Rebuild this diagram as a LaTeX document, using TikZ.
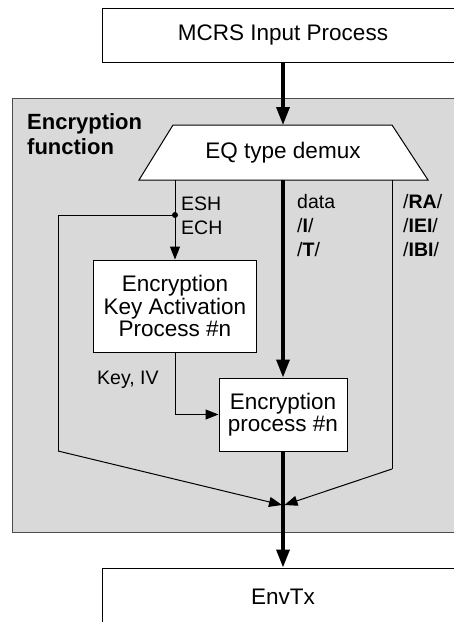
\documentclass[tikz,border=0pt]{standalone}
\usepackage{fontspec}
\setmainfont{Liberation Sans}
\usetikzlibrary{arrows.meta}
\definecolor{panel}{HTML}{D9D9D9}
\tikzset{
  box/.style={draw=black, fill=white, line width=1pt, inner sep=0pt, align=center, font=\fontsize{22.5}{22.5}\selectfont},
  thin/.style={line width=1pt, -{Triangle[length=13pt,width=10pt]}},
  thick/.style={line width=3.5pt, -{Triangle[length=18pt,width=13pt]}},
  lbl/.style={inner sep=0pt, align=left, font=\fontsize{19.5}{24}\selectfont},
}
\begin{document}
\begin{tikzpicture}[x=1pt,y=-1pt]
\useasboundingbox (0,0) rectangle (454,622);
\clip (0,0) rectangle (454,622);
% panel
\draw[fill=panel, draw=black!70, line width=0.8pt] (12,98) rectangle (480,532);
\node[anchor=west, inner sep=0pt, align=left, font=\fontsize{22}{25}\bfseries\selectfont] (title) at (27,134) {Encryption\\function};
% boxes
\node[box, minimum width=362pt, minimum height=54pt] (mcrs) at (283,35) {MCRS Input Process};
\draw[fill=white, line width=1pt] (173,125) -- (392,125) -- (428,180) -- (139,180) -- cycle;
\node[inner sep=0pt, font=\fontsize{22.5}{23.5}\selectfont] (demux) at (283,153) {EQ type demux};
\coordinate (dL) at (175,180);
\coordinate (dM) at (283,180);
\coordinate (dR) at (392,180);
\node[box, minimum width=163pt, minimum height=92pt] (key) at (175,306) {Encryption\\Key Activation\\Process \#n};
\node[box, minimum width=128pt, minimum height=73pt] (enc) at (283,414.5) {Encryption\\process \#n};
\node[box, minimum width=362pt, minimum height=58pt] (env) at (283,597) {EnvTx};
\coordinate (dot) at (175,215);
\coordinate (jl) at (282,505);
\coordinate (jr) at (284.5,505);
% connectors
\draw[thick] (mcrs.south) -- (283,125);
\draw[thin] (dL) -- (key.north);
\fill (dot) circle (3pt);
\draw[line width=1pt] (dot) -- (58,215) -- (58,451);
\draw[thin] (58,451) -- (jl);
\draw[thin] (key.south) |- (enc.west);
\draw[thick] (dM) -- (enc.north);
\draw[line width=1pt] (dR) -- (392,469);
\draw[thin] (392,469) -- (jr);
\draw[thick] (enc.south) -- (env.north);
% labels
\node[lbl, anchor=west] (esh) at (181,215.5) {ESH\\ECH};
\node[lbl, anchor=west] (data) at (297,226) {data\\/\textbf{I}/\\/\textbf{T}/};
\node[lbl, anchor=west] (ra) at (403,226) {/\textbf{RA}/\\/\textbf{IEI}/\\/\textbf{IBI}/};
\node[lbl, anchor=west] (kiv) at (97,380) {Key, IV};
\end{tikzpicture}
\end{document}
